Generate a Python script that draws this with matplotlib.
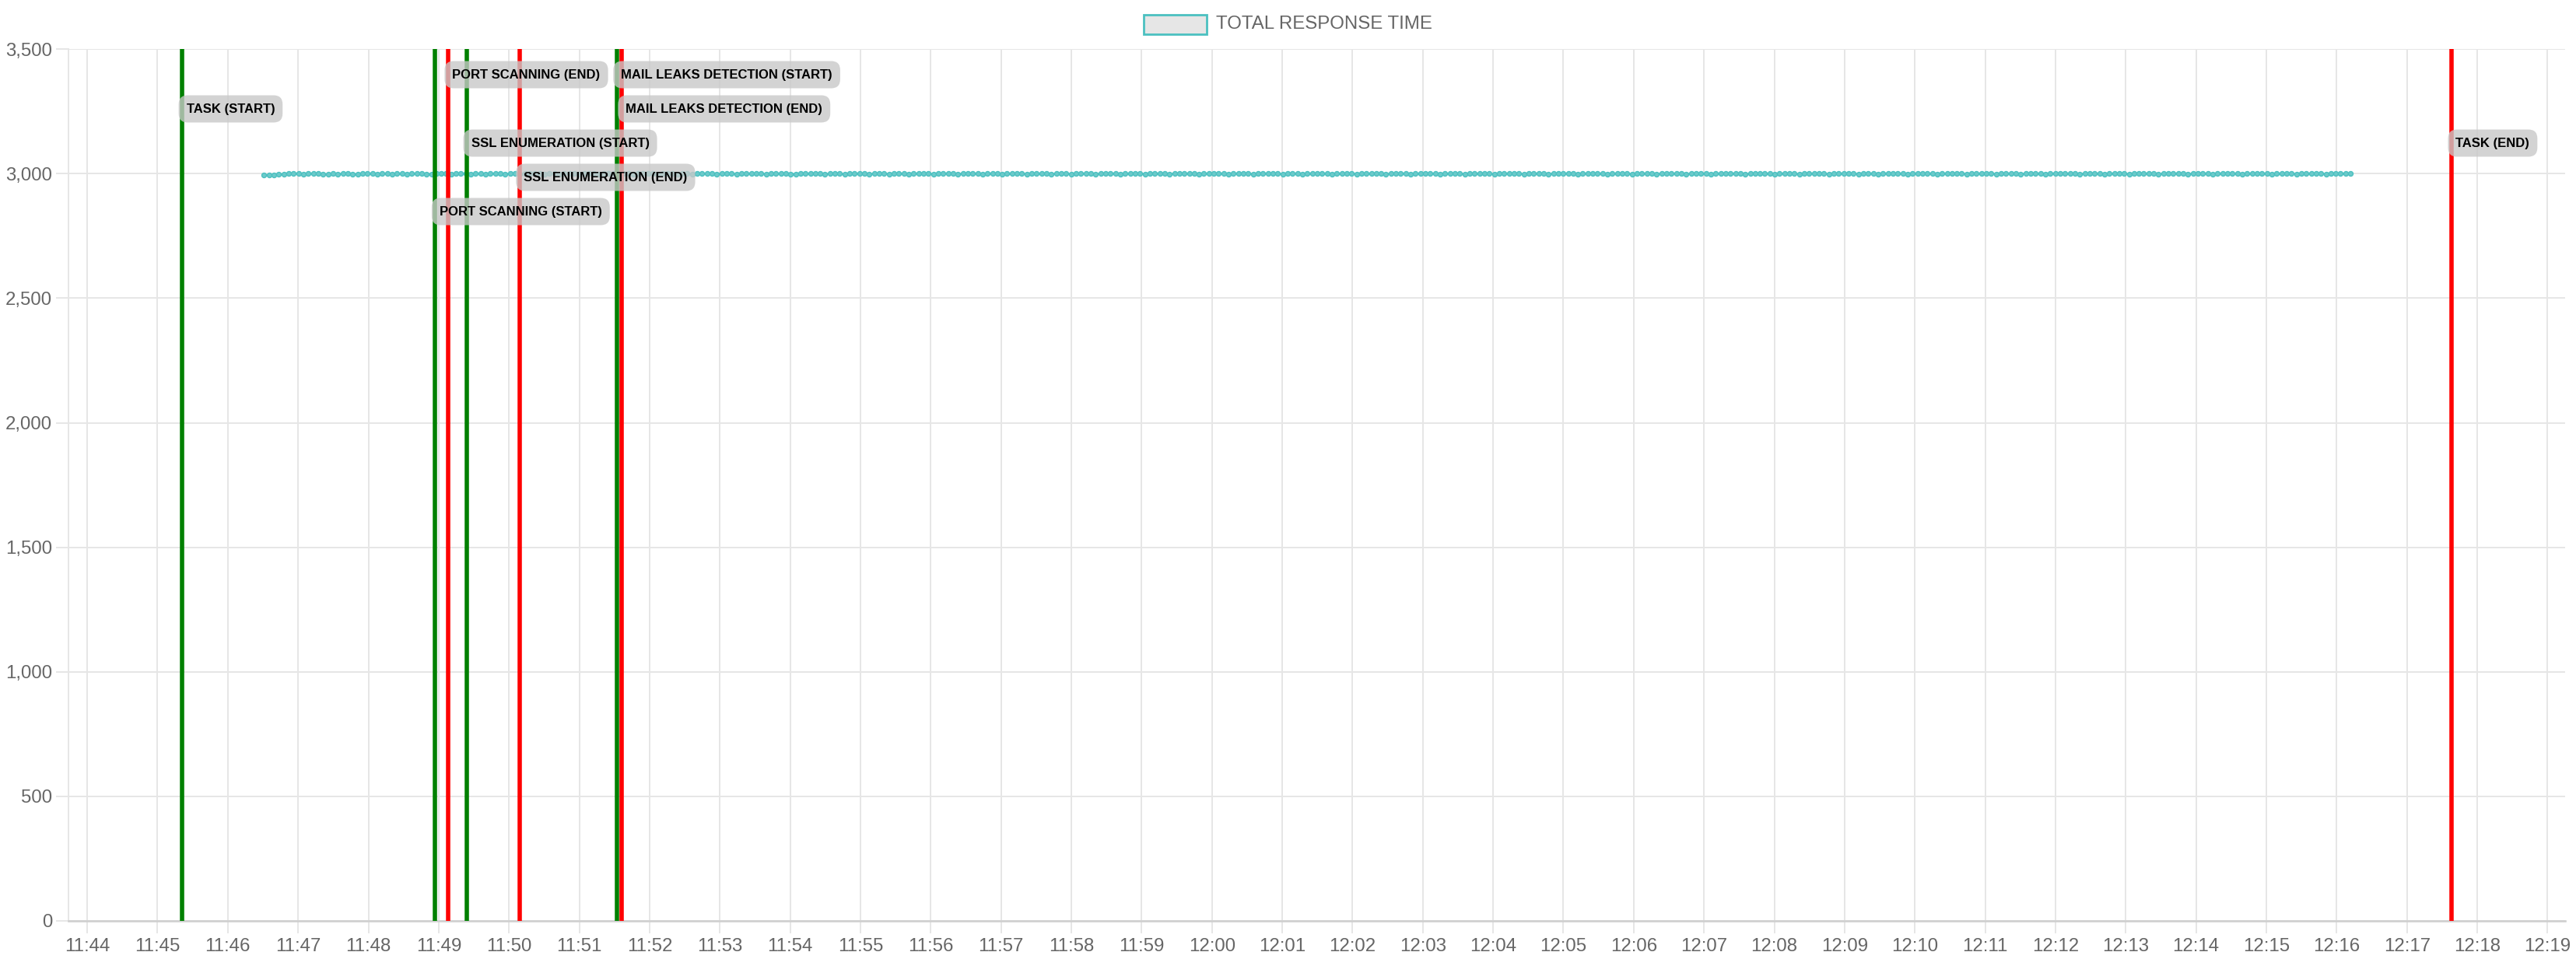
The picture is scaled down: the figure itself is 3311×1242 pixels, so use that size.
import matplotlib
matplotlib.use('Agg')
import matplotlib.pyplot as plt
import matplotlib.dates as mdates
from matplotlib.patches import Rectangle
from matplotlib.ticker import FuncFormatter, MultipleLocator
from matplotlib.transforms import blended_transform_factory
from datetime import datetime, timedelta

plt.rcParams['font.family'] = ['Liberation Sans', 'DejaVu Sans']

# data
day = '2024-05-14'
series_name = 'TOTAL RESPONSE TIME'
series_start = '11:46:31'
sample_step_s = 4.2
response_time = [
    2994, 2995, 2996, 2998, 2999, 3001, 3001, 3000, 2999, 3001, 3000, 3000, 2999, 2998, 3000, 2999, 3000, 3000, 2998, 2999, 3001, 3000, 3001, 2999, 3000,
    3000, 2999, 3001, 3000, 2999, 3000, 3001, 3000, 2999, 2999, 3000, 3001, 3000, 2998, 3000, 3000, 3001, 2999, 3000, 3000, 2999, 3001, 3000, 3000, 2999,
    3001, 3000, 2999, 3000, 3000, 3001, 3000, 2999, 3000, 3001, 2999, 3000, 3000, 3000, 2999, 3001, 3000, 3000, 2998, 3000, 3001, 3000, 2999, 3000, 3000,
    2999, 3000, 3001, 3000, 3000, 2999, 3000, 3000, 3001, 2999, 3000, 3000, 2999, 3001, 3000, 3000, 3000, 2999, 3000, 3001, 3000, 2999, 3000, 3000, 3001,
    3000, 3000, 2999, 3000, 3001, 3000, 3000, 2999, 2999, 3000, 3001, 3000, 3000, 3000, 2999, 3000, 3001, 3000, 2998, 3000, 3000, 3001, 3000, 2999, 3000,
    3000, 3001, 2999, 3000, 3000, 3000, 2999, 3001, 3000, 3000, 3000, 2999, 3000, 3000, 3001, 3000, 2999, 3000, 3001, 3000, 3000, 2999, 3000, 3000, 3001,
    2999, 3000, 3000, 3001, 3000, 2999, 3000, 3000, 3000, 3001, 2999, 3000, 3000, 3000, 2999, 3001, 3000, 3000, 3000, 2999, 3000, 3001, 3000, 3000, 2999,
    3000, 3000, 3001, 3000, 2999, 3000, 3000, 3001, 3000, 2999, 3000, 3000, 3000, 3001, 3000, 2999, 3000, 3000, 3001, 3000, 3000, 2999, 3000, 3001, 3000,
    3000, 2999, 3000, 3000, 3001, 3000, 3000, 2999, 3000, 3000, 3001, 2999, 3000, 3000, 3000, 3001, 3000, 2999, 3000, 3000, 3000, 3001, 2999, 3000, 3000,
    3001, 3000, 3000, 2999, 3000, 3000, 3001, 3000, 2999, 3000, 3000, 3000, 3001, 3000, 2999, 3000, 3001, 3000, 3000, 2999, 3000, 3000, 3001, 3000, 3000,
    2999, 3000, 3001, 3000, 3000, 3000, 2999, 3000, 3001, 3000, 3000, 2999, 3000, 3000, 3001, 3000, 3000, 2999, 3000, 3001, 3000, 3000, 3000, 2999, 3000,
    3001, 3000, 3000, 2999, 3000, 3000, 3001, 3000, 2999, 3000, 3000, 3001, 3000, 3000, 2999, 3000, 3000, 3001, 3000, 2999, 3000, 3000, 3000, 3001, 3000,
    3000, 2999, 3000, 3001, 3000, 3000, 3000, 2999, 3000, 3001, 3000, 3000, 2999, 3000, 3000, 3001, 3000, 3000, 2999, 3000, 3001, 3000, 3000, 3000, 2999,
    3000, 3001, 3000, 2999, 3000, 3000, 3001, 3000, 3000, 2999, 3000, 3000, 3001, 3000, 3000, 2999, 3000, 3001, 3000, 3000, 3000, 2999, 3000, 3001, 3000,
    3000, 3000, 2999, 3000, 3001, 3000, 3000, 2999, 3000, 3000, 3001, 3000, 2999, 3000, 3000, 3001, 3000, 3000, 3000, 2999, 3000, 3001, 3000, 3000, 2999,
    3000, 3001, 3000, 3000, 2999, 3000, 3000, 3001, 3000, 3000, 2999, 3000, 3001, 3000, 3000, 3000, 2999, 3000, 3001, 3000, 3000, 2999, 3000, 3000, 3001,
    3000, 3000, 2999, 3000, 3001, 3000, 3000, 3000, 2999, 3000, 3001, 3000, 3000, 2999, 3000, 3000, 3001, 3000, 3000, 2999, 3000, 3001, 3000, 3000, 3000,
]

event_labels = ['TASK (START)', 'PORT SCANNING (START)', 'PORT SCANNING (END)',
                'SSL ENUMERATION (START)', 'SSL ENUMERATION (END)',
                'MAIL LEAKS DETECTION (START)', 'MAIL LEAKS DETECTION (END)', 'TASK (END)']
event_times = ['11:45:21', '11:48:57', '11:49:08', '11:49:24', '11:50:09',
               '11:51:32', '11:51:36', '12:17:38']
event_kind = ['start', 'start', 'end', 'start', 'end', 'start', 'end', 'end']
label_row = [1, 4, 0, 2, 3, 0, 1, 2]

x_min, x_max = '11:43:44', '12:19:15'
y_max = 3500


def t(s):
    return datetime.strptime(day + ' ' + s, '%Y-%m-%d %H:%M:%S')


t0 = t(series_start)
times = [t0 + timedelta(seconds=sample_step_s * i) for i in range(len(response_time))]

W, H = 3312, 1242
fig = plt.figure(figsize=(W / 100, H / 100), dpi=100)
left, right, top, bottom = 88, 3297, 63.3, 1184
ax = fig.add_axes([left / W, (H - bottom) / H, (right - left) / W, (bottom - top) / H])

grid_c = '#e6e6e6'
ax.plot(times, response_time, color='#4bc0c0', lw=1.4, marker='o', ms=4.3,
        mfc='#6ccaca', mec='#4bc0c0', mew=1.0, zorder=3)

kind_color = {'start': '#008000', 'end': '#ff0000'}
for et, k in zip(event_times, event_kind):
    ax.axvline(t(et), color=kind_color[k], lw=4.0, zorder=4)

# labels, rows stacked from the top
row_px = [96, 140, 184, 228, 272]
trans = blended_transform_factory(ax.transData, ax.transAxes)
for lab, et, r in zip(event_labels, event_times, label_row):
    yf = (bottom - row_px[r]) / (bottom - top)
    ax.annotate(lab, xy=(mdates.date2num(t(et)), yf), xycoords=trans,
                xytext=(4, 0), textcoords='offset points', ha='left', va='center',
                fontsize=12.0, fontweight='bold', color='black', zorder=10,
                bbox=dict(boxstyle='round,pad=0.6,rounding_size=0.7',
                          fc=(0.784, 0.784, 0.784, 0.8), ec='none'))

ax.set_xlim(t(x_min), t(x_max))
ax.set_ylim(0, y_max)
ax.xaxis.set_major_locator(mdates.MinuteLocator())
ax.xaxis.set_major_formatter(mdates.DateFormatter('%H:%M'))
ax.yaxis.set_major_locator(MultipleLocator(500))
ax.yaxis.set_major_formatter(FuncFormatter(lambda v, p: f'{int(v):,}'))

ax.grid(True, color=grid_c, lw=1.44, zorder=0)
ax.set_axisbelow(True)
ax.tick_params(axis='both', length=11.5, width=1.44, color=grid_c,
               labelsize=17.3, labelcolor='#666666')
ax.tick_params(axis='x', pad=4.5)
ax.tick_params(axis='y', pad=3.6)
for s in ['top', 'right']:
    ax.spines[s].set_visible(False)
ax.spines['left'].set_color(grid_c)
ax.spines['left'].set_linewidth(1.44)
ax.spines['bottom'].set_color('#cfcfcf')
ax.spines['bottom'].set_linewidth(1.9)

# legend at the top
fig.patches.append(Rectangle((1470 / W, (H - 44.3) / H), 81 / W, 25 / H,
                             transform=fig.transFigure, fc='#e6e6e6', ec='#4bc0c0', lw=2))
fig.text(1563 / W, (H - 31) / H, series_name, fontsize=17.3, color='#666666',
         ha='left', va='center')

fig.savefig('out.png', dpi=100, facecolor='white')
